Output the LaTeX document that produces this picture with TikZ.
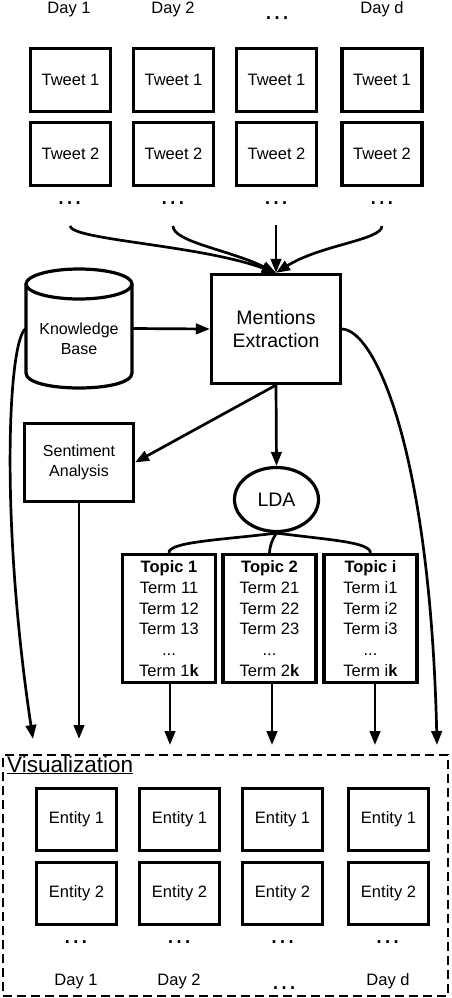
\documentclass[tikz,border=0pt]{standalone}
\usepackage{fontspec}
\setmainfont{Liberation Sans}
\usetikzlibrary{arrows.meta,shapes.geometric}
\begin{document}
\begin{tikzpicture}[x=1pt,y=-1pt,
  font=\fontsize{16.5}{19}\selectfont,
  box/.style={draw,line width=3.2pt,minimum width=80pt,minimum height=63pt,inner sep=0pt},
  topicbox/.style={draw,line width=3.2pt,minimum width=93pt,minimum height=128pt,inner sep=0pt,align=center,font=\fontsize{16.5}{20.8}\selectfont},
  arr/.style={line width=2.7pt,-{Triangle[length=14pt,width=10.5pt]}},
  conn/.style={line width=2.7pt},
  dots/.style={anchor=base,inner sep=0pt,font=\fontsize{27}{27}\selectfont},
  lbl/.style={anchor=base,inner sep=0pt},
]
\useasboundingbox (0,0) rectangle (452,998);

% top day labels
\node[lbl] (dl1) at (69,14) {Day 1};
\node[lbl] (dl2) at (173,14) {Day 2};
\node[dots] (dl3) at (277,19.5) {…};
\node[lbl] (dl4) at (382,14) {Day d};

% tweets
\foreach \x/\n in {70.5/1,173.5/2,276.5/3,382/4}{
  \node[box] (ta\n) at (\x,80) {Tweet 1};
  \node[box] (tb\n) at (\x,154) {Tweet 2};
}
\node[dots] (td1) at (69.7,204.5) {…};
\node[dots] (td2) at (172.8,204.5) {…};
\node[dots] (td3) at (276,204.5) {…};
\node[dots] (td4) at (381.8,204.5) {…};

\coordinate (s1) at (70,226);
\coordinate (s2) at (173,226);
\coordinate (s3) at (276,225);
\coordinate (s4) at (382,226);

% mentions extraction
\node[draw,line width=3.2pt,minimum width=129pt,minimum height=109pt,inner sep=0pt,align=center,font=\fontsize{19.5}{23}\selectfont] (me) at (276,329) {Mentions\\Extraction};

\draw[arr] (s1) .. controls (72,240) and (200,245) .. (me.north);
\draw[arr] (s2) .. controls (173,242) and (230,250) .. (me.north);
\draw[arr] (s3) -- (me.north);
\draw[arr] (s4) .. controls (382,240) and (320,245) .. (me.north);

% knowledge base cylinder
\node[minimum width=106pt,minimum height=119pt,inner sep=0pt] (kb) at (79,328.5) {};
\draw[line width=3.2pt] (79,284) ellipse [x radius=53, y radius=15];
\draw[line width=3.2pt] (26,284) -- (26,373) .. controls (26,393) and (132,393) .. (132,373) -- (132,284);
\node[align=center,inner sep=0pt,font=\fontsize{16}{20}\selectfont] (kbt) at (79,339) {Knowledge\\Base};

\draw[arr] (kb.east) -- (me.west);

% sentiment analysis
\node[draw,line width=3pt,minimum width=109pt,minimum height=78pt,inner sep=0pt,align=center,font=\fontsize{16}{20}\selectfont] (sa) at (79,462.5) {Sentiment\\Analysis};
\draw[arr] (me.south) -- (sa.east);

% LDA
\node[draw,ellipse,line width=3.2pt,minimum width=84pt,minimum height=64pt,inner sep=0pt,font=\fontsize{19.5}{22}\selectfont] (lda) at (276.5,499.5) {LDA};
\draw[arr] (me.south) -- (lda.north);

% topics
\node[topicbox] (t1) at (169,618.5) {\textbf{Topic 1}\\Term 11\\Term 12\\Term 13\\...\\Term 1\textbf{k}};
\node[topicbox] (t2) at (269.5,618.5) {\textbf{Topic 2}\\Term 21\\Term 22\\Term 23\\...\\Term 2\textbf{k}};
\node[topicbox] (t3) at (370.5,618.5) {\textbf{Topic i}\\Term i1\\Term i2\\Term i3\\...\\Term i\textbf{k}};

\draw[conn] (lda.south) .. controls (220,540) and (168,542) .. (t1.north);
\draw[conn] (lda.south) .. controls (272,540) and (270,545) .. (t2.north);
\draw[conn] (lda.south) .. controls (330,540) and (370,542) .. (t3.north);

% arrow ends
\coordinate (e0) at (33,739);
\coordinate (e1) at (79,739);
\coordinate (e2) at (170,745);
\coordinate (e3) at (272,745);
\coordinate (e4) at (375,745);
\coordinate (e5) at (437,745);

\draw[arr] (kb.west) .. controls (8,340) and (0,520) .. (e0);
\draw[arr] (sa.south) -- (e1);
\draw[arr] (t1.south -| e2) -- (e2);
\draw[arr] (t2.south -| e3) -- (e3);
\draw[arr] (t3.south -| e4) -- (e4);
\draw[arr] (me.east) .. controls (375,330) and (430,450) .. (e5);

% visualization
\node[draw,line width=2.7pt,dash pattern=on 9pt off 5pt,minimum width=445pt,minimum height=241pt,inner sep=0pt] (vis) at (225.5,875.5) {};
\node[lbl,anchor=base west,font=\fontsize{22.5}{24}\selectfont] (vlabel) at (7,772) {\underline{Visualization}};

\foreach \x/\n in {76.5/1,179.5/2,282.5/3,388.5/4}{
  \node[box,minimum height=62pt] (ea\n) at (\x,819.5) {Entity 1};
  \node[box,minimum height=62pt] (eb\n) at (\x,893.5) {Entity 2};
}
\node[dots] (ed1) at (75.8,943.5) {…};
\node[dots] (ed2) at (179,943.5) {…};
\node[dots] (ed3) at (282.5,943.5) {…};
\node[dots] (ed4) at (387.5,943.5) {…};

\node[lbl] (bl1) at (76,985) {Day 1};
\node[lbl] (bl2) at (179,985) {Day 2};
\node[dots] (bl3) at (284,989.5) {…};
\node[lbl] (bl4) at (388,985) {Day d};
\end{tikzpicture}
\end{document}
